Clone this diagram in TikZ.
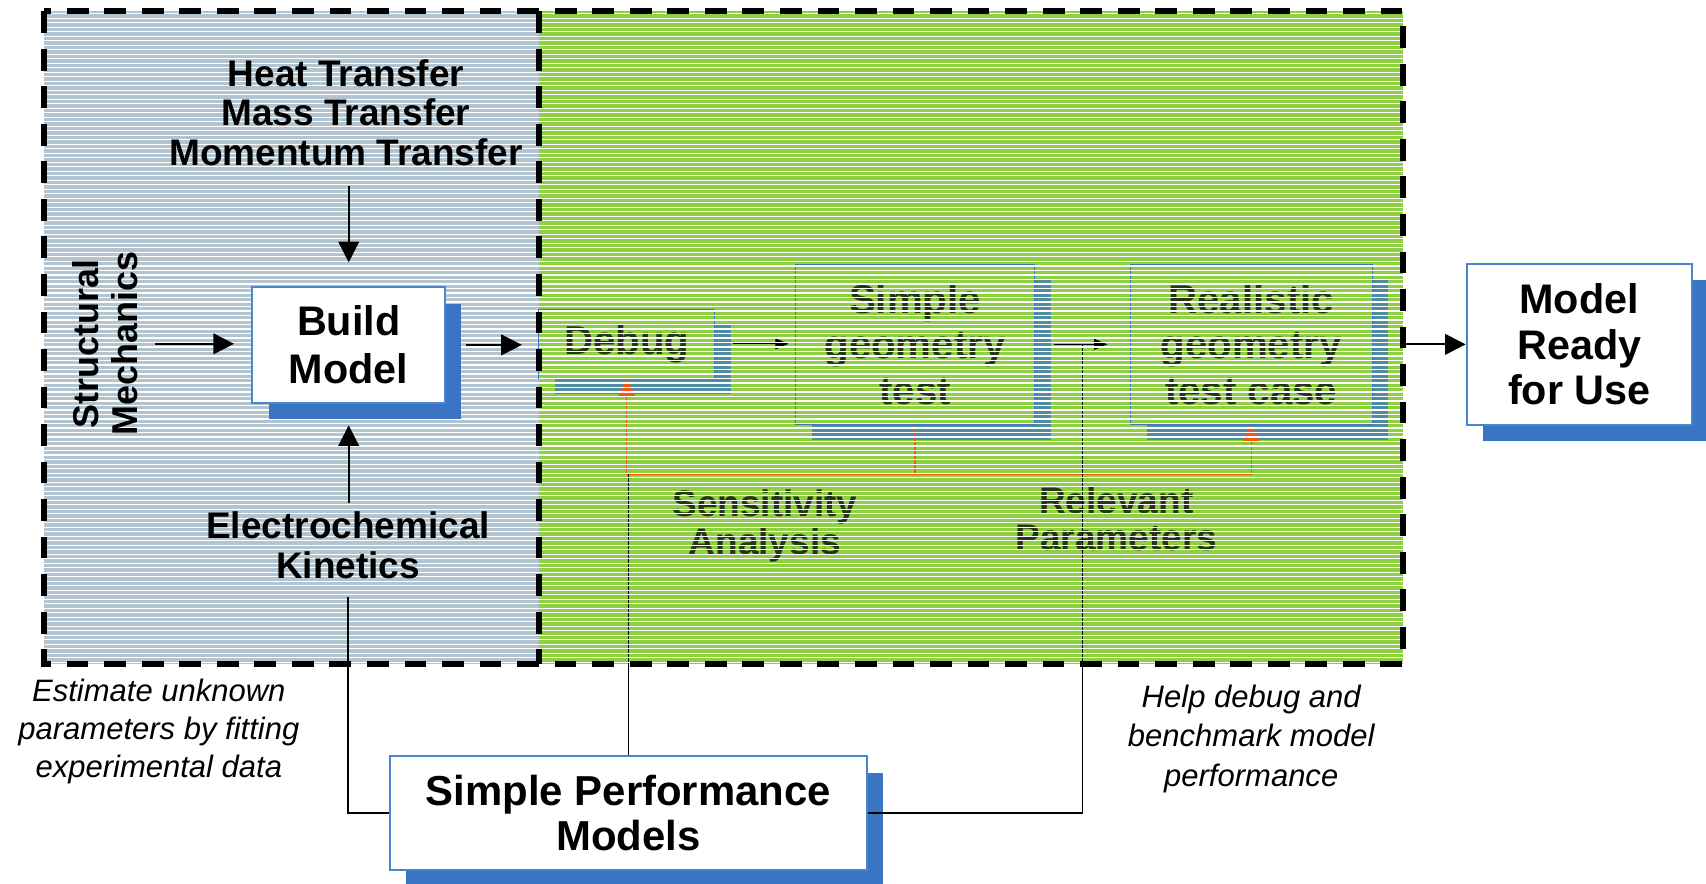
\documentclass[tikz,border=0pt]{standalone}
\usepackage{fontspec}
\setmainfont{Liberation Sans}
\usepackage{pdfrender}
\usetikzlibrary{arrows.meta,shadows,calc}

\definecolor{panelblue}{RGB}{178,196,208}
\definecolor{panelgreen}{RGB}{141,209,66}
\definecolor{boxblue}{RGB}{58,117,196}
\definecolor{edgeblue}{RGB}{74,134,206}
\definecolor{fbred}{RGB}{245,88,20}
\definecolor{inkgray}{RGB}{40,50,30}
\colorlet{shadowmix}{boxblue!75!panelgreen}

% stroked (hollow) lettering used inside the test panel
\newcommand{\outlined}[1]{\textcolor{inkgray}{\textpdfrender{TextRenderingMode=Stroke,LineWidth=0.45pt}{#1}}}

\tikzset{
  mainbox/.style={draw=edgeblue, line width=1.8pt, fill=white, align=center,
    inner sep=0pt, font=\fontsize{38}{44}\selectfont\bfseries,
    drop shadow={shadow xshift=15pt, shadow yshift=-15pt, fill=boxblue, opacity=1}},
  greenbox/.style={draw=boxblue, line width=0.7pt, fill=panelgreen, align=center,
    inner sep=0pt, font=\fontsize{37}{42}\selectfont\bfseries,
    drop shadow={shadow xshift=15pt, shadow yshift=-14pt, fill=shadowmix, opacity=1}},
  label/.style={align=center, inner sep=0pt},
  boldlabel/.style={label, font=\fontsize{34}{36.5}\selectfont\bfseries},
  note/.style={label, font=\fontsize{28.5}{35}\selectfont\itshape},
  arr/.style={line width=1.8pt, -{Triangle[length=19pt,width=19pt]}},
  thinarr/.style={line width=1pt, -{Triangle[length=12pt,width=10pt]}},
  link/.style={line width=1.6pt},
  fbline/.style={draw=fbred, line width=1pt},
  fbarr/.style={fbline, -{Triangle[length=16pt,width=16pt]}},
  border/.style={line width=5.5pt, dash pattern=on 20pt off 14.5pt},
}

\begin{document}
\begin{tikzpicture}[x=1pt, y=-1pt]
\useasboundingbox (0,0) rectangle (1568,812);

% panel backgrounds
\fill[panelblue] (40,10.3) rectangle (495,610);
\fill[panelgreen] (495,10.3) rectangle (1289.5,610);
\begin{scope}
  \clip (40,10.3) rectangle (495,610);
  \foreach \k in {0,...,145}
    \fill[white] (40,12+4.14*\k) rectangle (495,13.1+4.14*\k);
\end{scope}

% test panel: boxes, feedback loop and links
\node[greenbox, minimum width=162pt, minimum height=64pt] (debug) at (576,316) {\outlined{Debug}};
\node[greenbox, minimum width=220pt, minimum height=147pt] (simple) at (841,316.5)
  {\outlined{Simple}\\\outlined{geometry}\\\outlined{test}};
\node[greenbox, minimum width=222pt, minimum height=147pt] (realistic) at (1150,316.5)
  {\outlined{Realistic}\\\outlined{geometry}\\\outlined{test case}};

\node[label, font=\fontsize{34}{35}\selectfont\bfseries] (sens) at (703,483)
  {\outlined{Sensitivity}\\\outlined{Analysis}};
\node[label, font=\fontsize{34}{34}\selectfont\bfseries] (relev) at (1026,477)
  {\outlined{Relevant}\\\outlined{Parameters}};

\node[mainbox, minimum width=438pt, minimum height=104.6pt,
      font=\fontsize{38.5}{41.5}\selectfont\bfseries] (spm) at (577.6,747.3)
  {Simple Performance\\Models};

\coordinate (fb) at (841,436);
\coordinate (j) at (995,316.5);

\draw[fbline] (simple.south) -- (fb);
\draw[fbarr] (fb) -| (debug.south);
\draw[fbarr] (fb) -| (realistic.south);

\draw[thinarr, shorten <=16pt, shorten >=6pt] (debug.east) -- (debug.east -| simple.west);
\draw[thinarr, shorten <=17pt, shorten >=21pt] (simple.east) -- (realistic.west);

\draw[link] (spm.north) -- (spm.north |- fb);
\draw[link] (spm.east) -| (j);

\begin{scope}
  \clip (495,10.3) rectangle (1289.5,610);
  \foreach \k in {0,...,145}
    \fill[white] (495,12+4.14*\k) rectangle (1289.5,13.1+4.14*\k);
\end{scope}

% dashed frame
\draw[border] (40,10.3) rectangle (1289.5,610);
\draw[border] (495,10.3) -- (495,610);

% model building panel
\node[mainbox, minimum width=177pt, minimum height=106pt] (build) at (320.5,317) {Build\\Model};
\node[boldlabel] (heat) at (318,103.4) {Heat Transfer\\Mass Transfer\\Momentum Transfer};
\node[boldlabel, font=\fontsize{33}{36}\selectfont\bfseries, rotate=90] (struct) at (97,316)
  {Structural\\Mechanics};
\node[boldlabel, font=\fontsize{34}{37}\selectfont\bfseries] (electro) at (320,501.5)
  {Electrochemical\\Kinetics};

\draw[arr, shorten <=18pt, shorten >=22pt] (build.north |- heat.south) -- (build.north);
\draw[arr, shorten <=15pt, shorten >=16pt] (struct.south) -- (struct.south -| build.west);
\draw[arr, shorten <=7.6pt, shorten >=20pt] (build.south |- electro.north) -- (build.south);
\draw[arr, shorten <=18pt, shorten >=15pt] (build.east) -- (build.east -| debug.west);
\draw[link, shorten <=16pt] (electro.south) |- (spm.west);

% result
\node[mainbox, minimum width=207pt, minimum height=148pt,
      font=\fontsize{38}{42}\selectfont\bfseries] (ready) at (1451.5,316.6)
  {Model\\Ready\\for Use};
\draw[arr, shorten <=31pt] (realistic.east) -- (realistic.east -| ready.west);

% side notes
\node[note] (estimate) at (146,672.6)
  {Estimate unknown\\parameters by fitting\\experimental data};
\node[note, font=\fontsize{28.5}{36.5}\selectfont\itshape] (help) at (1150,679)
  {Help debug and\\benchmark model\\performance};
\end{tikzpicture}
\end{document}
